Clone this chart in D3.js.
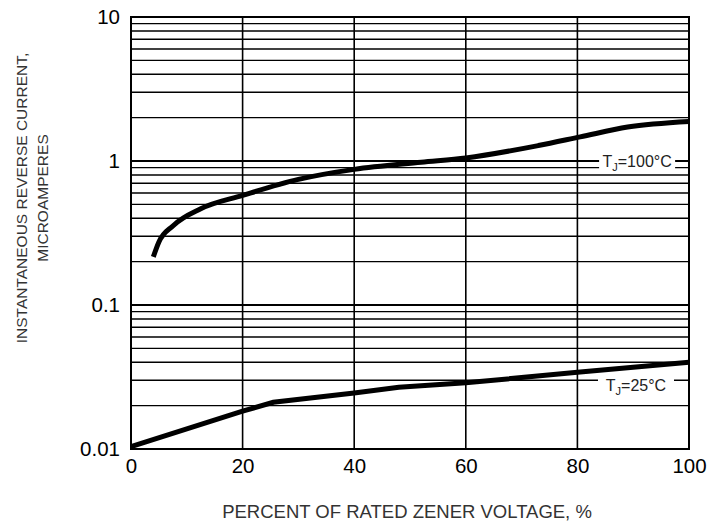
<!DOCTYPE html>
<html>
<head>
<meta charset="utf-8">
<script src="https://cdn.jsdelivr.net/npm/d3@7"></script>
<style>
  body { margin: 0; background: #fff; }
  text { font-family: "Liberation Sans", Arial, sans-serif; }
</style>
</head>
<body>
<div id="chart"></div>
<script>
// curve readings (percent of rated zener voltage -> reverse current, uA)
const pct100 = [4, 5, 7.5, 12.5, 20, 30, 40, 52, 60, 73, 80.5, 89, 100];
const cur100 = [0.216, 0.274, 0.354, 0.466, 0.577, 0.745, 0.875, 0.98, 1.05, 1.28, 1.47, 1.72, 1.88];

const pct25 = [0, 20, 25.5, 40, 48, 60, 80, 100];
const cur25 = [0.0104, 0.0183, 0.0211, 0.0245, 0.0268, 0.0288, 0.0341, 0.0401];

const xTicks = [0, 20, 40, 60, 80, 100];
const yTicks = [0.01, 0.1, 1, 10];
const yTickLabels = ["0.01", "0.1", "1", "10"];

const curveLabels = [
    {pct: 90.7, cur: 1.0, name: "100°C"},
    {pct: 90.5, cur: 0.0276, name: "25°C"}
];

const outerWidth = 725;
const outerHeight = 522;
const margin = {top: 17, left: 131, bottom: 73, right: 36};
const width = outerWidth - margin.left - margin.right;
const height = outerHeight - margin.top - margin.bottom;

const root = d3.select("#chart")
    .append("svg")
    .attr("width", outerWidth)
    .attr("height", outerHeight);

const svg = root.append("g")
    .attr("transform", `translate(${margin.left}, ${margin.top})`);

let xScale = d3.scaleLinear()
    .domain([0, 100])
    .range([0, width]);

let yScale = d3.scaleLog()
    .domain([0.01, 10])
    .range([height, 0]);

// minor grid: 2..9 in every decade
let minor = [];
yTicks.slice(0, -1).forEach(d => {
    for (let k = 2; k <= 9; k++) minor.push(d * k);
});

svg.selectAll(".grid-h")
    .data(minor)
    .join("line")
    .attr("class", "grid-h")
    .attr("x1", 0)
    .attr("x2", width)
    .attr("y1", d => yScale(d))
    .attr("y2", d => yScale(d))
    .attr("stroke", "#000")
    .attr("stroke-width", 1.4);

svg.selectAll(".grid-major")
    .data(yTicks)
    .join("line")
    .attr("class", "grid-major")
    .attr("x1", 0)
    .attr("x2", width)
    .attr("y1", d => yScale(d))
    .attr("y2", d => yScale(d))
    .attr("stroke", "#000")
    .attr("stroke-width", 2);

svg.selectAll(".grid-v")
    .data(xTicks)
    .join("line")
    .attr("class", "grid-v")
    .attr("x1", d => xScale(d))
    .attr("x2", d => xScale(d))
    .attr("y1", 0)
    .attr("y2", height)
    .attr("stroke", "#000")
    .attr("stroke-width", 1.6);

// frame
svg.append("rect")
    .attr("width", width)
    .attr("height", height)
    .attr("fill", "none")
    .attr("stroke", "#000")
    .attr("stroke-width", 2);

// curves
const line = d3.line()
    .x(d => xScale(d[0]))
    .y(d => yScale(d[1]));

svg.append("path")
    .datum(d3.zip(pct100, cur100))
    .attr("fill", "none")
    .attr("stroke", "#000")
    .attr("stroke-width", 5)
    .attr("d", line.curve(d3.curveMonotoneX));

svg.append("path")
    .datum(d3.zip(pct25, cur25))
    .attr("fill", "none")
    .attr("stroke", "#000")
    .attr("stroke-width", 5)
    .attr("d", line.curve(d3.curveLinear));

// curve labels on white patches
const lab = svg.selectAll(".curve-label")
    .data(curveLabels)
    .join("g")
    .attr("class", "curve-label")
    .attr("transform", d => `translate(${xScale(d.pct)}, ${yScale(d.cur)})`);

lab.append("rect")
    .attr("x", -38)
    .attr("y", -10)
    .attr("width", 76)
    .attr("height", 20)
    .attr("fill", "#fff");

const lt = lab.append("text")
    .attr("text-anchor", "middle")
    .attr("dy", "0.36em")
    .attr("font-size", 16)
    .attr("fill", "#222");
lt.append("tspan").text("T");
lt.append("tspan").attr("font-size", 11).attr("dy", 4).text("J");
lt.append("tspan").attr("dy", -4).text(d => "=" + d.name);

// axes
const xAxis = d3.axisBottom(xScale)
    .tickValues(xTicks)
    .tickSize(0)
    .tickPadding(9);

const yAxis = d3.axisLeft(yScale)
    .tickValues(yTicks)
    .tickFormat((d, i) => yTickLabels[i])
    .tickSize(0)
    .tickPadding(11);

svg.append("g")
    .attr("class", "axis-x-axis")
    .attr("transform", `translate(0, ${height})`)
    .call(xAxis);

svg.append("g")
    .attr("class", "axis-y-axis")
    .call(yAxis);

svg.selectAll(".axis-x-axis .domain, .axis-y-axis .domain").remove();
svg.selectAll(".tick text")
    .attr("font-family", "Liberation Sans, Arial, sans-serif")
    .attr("font-size", 20.5)
    .attr("fill", "#000");

// titles
root.append("text")
    .attr("x", margin.left + width / 2 - 3)
    .attr("y", 518)
    .attr("text-anchor", "middle")
    .attr("font-size", 18.5)
    .attr("fill", "#333")
    .text("PERCENT OF RATED ZENER VOLTAGE, %");

const yTitle = root.append("text")
    .attr("transform", "translate(0, 198) rotate(-90)")
    .attr("text-anchor", "middle")
    .attr("font-size", 15.5)
    .attr("fill", "#333");
yTitle.append("tspan").attr("x", 0).attr("y", 27).text("INSTANTANEOUS REVERSE CURRENT,");
yTitle.append("tspan").attr("x", 0).attr("y", 48).text("MICROAMPERES");
</script>
</body>
</html>
